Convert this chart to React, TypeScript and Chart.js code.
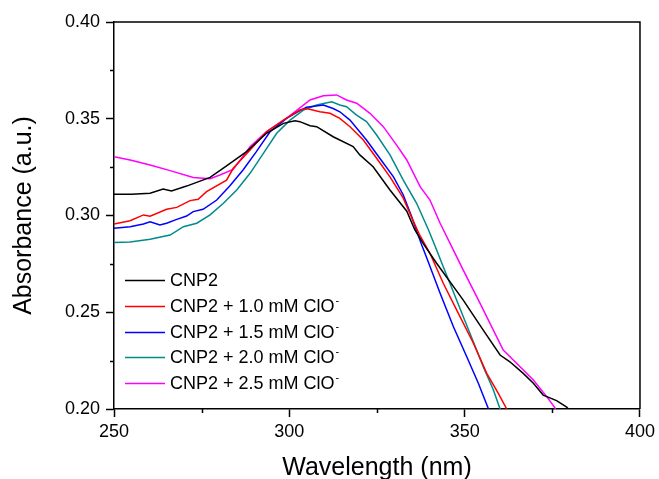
import React, { useEffect, useRef } from 'react';
import { Chart, registerables } from 'chart.js';

Chart.register(...registerables);

// ---- data ----
const wlCNP2 = [250, 255, 260.3, 264, 266.4, 270.7, 277.4, 282.1, 287.8, 293.5, 298.3, 301.6, 303, 305.9, 307.8, 312.5, 318.2, 320.1, 323.9, 328.7, 333.5, 335.8, 338.2, 342, 349.6, 355.3, 360.1, 362.9, 366.7, 369.6, 372.4, 376.2, 379.1, 380.5];
const absCNP2 = [0.311, 0.311, 0.3115, 0.3137, 0.3127, 0.3152, 0.3197, 0.3256, 0.333, 0.3425, 0.3476, 0.349, 0.3485, 0.3464, 0.3459, 0.3407, 0.3356, 0.3313, 0.3252, 0.3132, 0.3022, 0.2925, 0.2855, 0.2753, 0.2563, 0.2408, 0.2279, 0.2244, 0.2184, 0.2133, 0.2072, 0.2043, 0.201, 0.198];

const wl10 = [250, 254.6, 258.4, 260.3, 265, 267.9, 271.7, 274, 276.4, 282.1, 284, 288.8, 293.5, 298.3, 303, 304.9, 308.7, 311.6, 314.4, 317.3, 321.1, 324.9, 328.7, 332.5, 335, 337, 340.1, 343.9, 347.7, 352.5, 356.3, 359.6, 362, 362.5];
const abs10 = [0.2956, 0.2973, 0.3003, 0.2996, 0.3032, 0.3042, 0.3077, 0.3084, 0.3123, 0.3183, 0.3244, 0.3338, 0.3433, 0.3493, 0.3545, 0.3553, 0.3536, 0.3528, 0.3502, 0.3459, 0.339, 0.3296, 0.32, 0.309, 0.2985, 0.2905, 0.2805, 0.265, 0.2512, 0.234, 0.2184, 0.2081, 0.2, 0.198];

const wl15 = [250, 254.6, 258.4, 260.3, 263.1, 265, 267.9, 270.7, 272.6, 275.4, 279.3, 283, 286.8, 290.6, 294.5, 299.2, 303, 304.9, 309.7, 312.5, 314.4, 317.3, 322, 325.8, 329.7, 332.5, 334.9, 336, 337.7, 339.2, 343, 346.8, 350.6, 353.9, 356.8, 357.2];
const abs15 = [0.2934, 0.2942, 0.2956, 0.2968, 0.2951, 0.296, 0.298, 0.2997, 0.302, 0.3032, 0.308, 0.3152, 0.3235, 0.333, 0.3433, 0.3502, 0.3542, 0.3559, 0.3571, 0.3553, 0.3536, 0.3493, 0.339, 0.3296, 0.32, 0.3106, 0.2994, 0.2935, 0.285, 0.278, 0.2598, 0.2425, 0.227, 0.2133, 0.2, 0.198];

const wl20 = [250, 254.6, 260.3, 266, 269.8, 273.6, 277.4, 281.2, 285, 288.8, 292.6, 296.4, 300.2, 304, 307.8, 312.1, 314.4, 316.3, 319.2, 322, 324.9, 328.7, 332.5, 336.3, 339.7, 341.5, 343.9, 347.7, 351.5, 355.3, 358.2, 360.1, 360.5];
const abs20 = [0.2861, 0.2863, 0.2877, 0.2899, 0.2942, 0.296, 0.3003, 0.3063, 0.3132, 0.3218, 0.3321, 0.3425, 0.3493, 0.3545, 0.3571, 0.3588, 0.3571, 0.3562, 0.3519, 0.3485, 0.3416, 0.3313, 0.3183, 0.3063, 0.2925, 0.2845, 0.2735, 0.2563, 0.2391, 0.2219, 0.2098, 0.2, 0.198];

const wl25 = [250, 254.6, 260.3, 266, 272.6, 277.4, 280.2, 284, 288.8, 293.5, 299.2, 305.9, 309.7, 313.5, 316.3, 319.2, 323, 326.8, 330.6, 333.5, 337.3, 340.1, 343, 346.3, 349.6, 354.4, 361, 364.8, 369.6, 373.4, 375.8, 376.2];
const abs25 = [0.3304, 0.3287, 0.3261, 0.3232, 0.3196, 0.319, 0.3209, 0.3238, 0.3355, 0.3433, 0.3502, 0.3597, 0.3619, 0.3623, 0.3597, 0.358, 0.3528, 0.3459, 0.3364, 0.3287, 0.3149, 0.308, 0.296, 0.2839, 0.2718, 0.2546, 0.2305, 0.2236, 0.215, 0.2064, 0.2005, 0.198];

const seriesLabels = ['CNP2', 'CNP2 + 1.0 mM ClO⁻', 'CNP2 + 1.5 mM ClO⁻', 'CNP2 + 2.0 mM ClO⁻', 'CNP2 + 2.5 mM ClO⁻'];
const seriesWl = [wlCNP2, wl10, wl15, wl20, wl25];
const seriesAbs = [absCNP2, abs10, abs15, abs20, abs25];
const seriesColors = ['#000000', '#ff0000', '#0000ff', '#008b8b', '#ff00ff'];

const xMinorTicks = [275, 325, 375];
const yMinorTicks = [0.225, 0.275, 0.325, 0.375];

const FONT = '"Liberation Sans", Arial, sans-serif';

const framePlugin = {
  id: 'frameAndLegend',
  afterDatasetsDraw(chart: any) {
    const { ctx, chartArea: a, scales } = chart;
    ctx.save();
    ctx.strokeStyle = '#000';
    ctx.lineWidth = 1.5;
    ctx.beginPath();
    ctx.moveTo(a.left, a.top);
    ctx.lineTo(a.right, a.top);
    ctx.lineTo(a.right, a.bottom);
    ctx.stroke();

    ctx.beginPath();
    xMinorTicks.forEach((v) => {
      const px = Math.round(scales.x.getPixelForValue(v)) + 0.5;
      ctx.moveTo(px, a.bottom);
      ctx.lineTo(px, a.bottom + 4);
    });
    yMinorTicks.forEach((v) => {
      const py = Math.round(scales.y.getPixelForValue(v)) + 0.5;
      ctx.moveTo(a.left, py);
      ctx.lineTo(a.left - 4, py);
    });
    ctx.stroke();

    // legend inside plot area
    const lx = a.left + 11;
    const ly0 = a.bottom - 129;
    const step = 25.8;
    chart.data.datasets.forEach((ds: any, i: number) => {
      const y = Math.round(ly0 + i * step) + 0.5;
      ctx.strokeStyle = ds.borderColor;
      ctx.lineWidth = 1.5;
      ctx.beginPath();
      ctx.moveTo(lx, y);
      ctx.lineTo(lx + 40, y);
      ctx.stroke();
      let text: string = ds.label;
      let sup = '';
      if (text.endsWith('⁻')) {
        sup = '-';
        text = text.slice(0, -1);
      }
      ctx.fillStyle = '#000';
      ctx.font = `18px ${FONT}`;
      ctx.textBaseline = 'middle';
      ctx.textAlign = 'left';
      ctx.fillText(text, lx + 45, y + 1);
      if (sup) {
        const w = ctx.measureText(text).width;
        ctx.font = `11px ${FONT}`;
        ctx.fillText(sup, lx + 45 + w + 1, y - 6);
      }
    });
    ctx.restore();
  },
};

export default function App() {
  const ref = useRef<HTMLCanvasElement | null>(null);

  useEffect(() => {
    if (!ref.current) return;
    const datasets = seriesLabels.map((label, i) => ({
      label,
      data: seriesWl[i].map((x, j) => ({ x, y: seriesAbs[i][j] })),
      borderColor: seriesColors[i],
      backgroundColor: seriesColors[i],
      borderWidth: 1.5,
      pointRadius: 0,
      tension: 0,
      fill: false,
    }));
    const chart = new Chart(ref.current, {
      type: 'line',
      data: { datasets },
      options: {
        responsive: false,
        animation: false,
        devicePixelRatio: 1,
        layout: { padding: { left: 0, right: 19, top: 22, bottom: 0 } },
        plugins: { legend: { display: false }, tooltip: { enabled: false } },
        scales: {
          x: {
            type: 'linear',
            min: 250,
            max: 400,
            ticks: { stepSize: 50, color: '#000', font: { size: 18, family: FONT }, padding: 4, maxRotation: 0, autoSkip: false },
            grid: { display: true, drawOnChartArea: false, drawTicks: true, tickLength: 8, tickColor: '#000', tickWidth: 1.5 },
            border: { display: true, color: '#000', width: 1.5 },
            title: { display: true, text: 'Wavelength (nm)', color: '#000', font: { size: 25, family: FONT, lineHeight: 1 }, padding: { top: 0, bottom: -2 } },
            afterFit: (s: any) => { s.height = 70; },
          },
          y: {
            type: 'linear',
            min: 0.2,
            max: 0.4,
            ticks: { stepSize: 0.05, color: '#000', font: { size: 18, family: FONT }, padding: 6, callback: (v: any) => Number(v).toFixed(2) },
            grid: { display: true, drawOnChartArea: false, drawTicks: true, tickLength: 8, tickColor: '#000', tickWidth: 1.5 },
            border: { display: true, color: '#000', width: 1.5 },
            title: { display: true, text: 'Absorbance (a.u.)', color: '#000', font: { size: 25, family: FONT, lineHeight: 1 }, padding: { top: 12, bottom: 0 } },
            afterFit: (s: any) => { s.width = 114; },
          },
        },
      },
      plugins: [framePlugin],
    } as any);
    return () => chart.destroy();
  }, []);

  return (
    <div style={{ position: 'fixed', left: 0, top: 0, width: 659, height: 479 }}>
      <canvas ref={ref} width={659} height={479} style={{ width: 659, height: 479, display: 'block' }} />
    </div>
  );
}
